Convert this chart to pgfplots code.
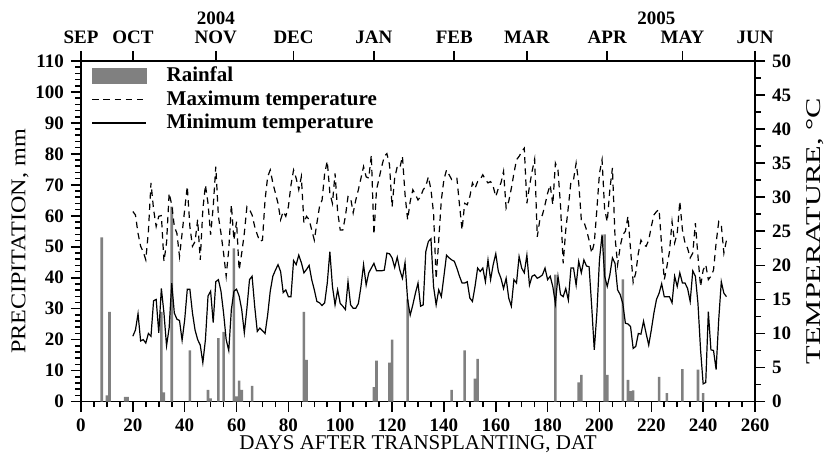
\documentclass[border=0pt]{standalone}
\usepackage{fontspec}
\setmainfont{Liberation Serif}
\newfontfamily\stretchA[FakeStretch=1.15]{Liberation Serif}
\newfontfamily\stretchB[FakeStretch=1.45]{Liberation Serif}
\usepackage{pgfplots}
\pgfplotsset{compat=1.18}
\definecolor{raingray}{RGB}{128,128,128}

\pgfplotsset{
  common/.style={
    width=337pt, height=170.3pt, scale only axis,
    xmin=0, xmax=260,
    tick align=outside,
    major tick length=5pt, minor tick length=2.8pt,
    every tick/.style={black, line width=0.8pt},
    axis line style={line width=0.85pt},
    tick label style={font=\bfseries\fontsize{9.5}{11}\selectfont},
    /pgf/number format/assume math mode=true,
    label style={font=\fontsize{10.5}{12}\selectfont},
  }
}

\begin{document}
\begin{tikzpicture}
% rainfall, left axis
\begin{axis}[common,
  axis x line*=bottom, axis y line*=left,
  ymin=0, ymax=110,
  xtick distance=20, minor x tick num=3,
  ytick distance=10, minor y tick num=4,
  xlabel={DAYS AFTER TRANSPLANTING, DAT},
  ylabel={\stretchA PRECIPITATION, mm},
  xlabel style={at={(axis description cs:0.5,-0.124)}, anchor=center},
  ylabel style={at={(axis description cs:-0.0905,0.47)}, anchor=center},
  ybar, bar width=1,
]
\addplot[fill=raingray, draw=none] coordinates {
(8,53) (10,2) (11,29) (17,1.5) (18,1.5) (31,29) (32,3) (35,63)
(42,16.5) (49,3.8) (50,1) (53,20.5) (55,22.5) (59,49.5) (60,1.7)
(61,6.8) (62,3.8) (66,5.1) (86,29) (87,13.5) (113,4.7) (114,13.2)
(119,12.6) (120,20) (126,33) (143,3.8) (148,16.5) (152,7.4) (153,13.8)
(183,41) (192,6.2) (193,8.6) (202,54) (203,8.6) (209,39.5) (211,7)
(212,3.4) (213,3.6) (223,8) (226,2.7) (232,10.5) (238,10.3) (240,2.7)
};
\end{axis}

% temperatures, right axis
\begin{axis}[common,
  axis x line*=top, axis y line*=right,
  ymin=0, ymax=50,
  xtick={0,20,52,82,113,144,172,203,232,260},
  xticklabels={SEP,OCT,NOV,DEC,JAN,FEB,MAR,APR,MAY,JUN},
  minor x tick num=0,
  ytick distance=5, minor y tick num=1,
  ylabel={\stretchB TEMPERATURE, °C},
  ylabel style={at={(axis description cs:1.089,0.5)}, anchor=center},
  clip=false,
  legend image code/.code={\draw[#1] (0pt,0pt) -- (27pt,0pt);},
  legend cell align=left,
  legend style={at={(axis description cs:0.015,0.99)}, anchor=north west,
    draw=none, fill=none, inner sep=0pt, column sep=9pt, row sep=1pt,
    nodes={inner sep=1pt},
    font=\bfseries\fontsize{10.5}{12}\selectfont},
]
\addlegendimage{legend image code/.code={\fill[raingray] (0pt,-3.75pt) rectangle (27pt,3.75pt);}}
\addplot[black, line width=0.6pt, dash pattern=on 3.2pt off 2.4pt] table {
20 27.9
21 27.4
22 24.7
23 22.8
24 22.0
25 20.8
26 25.0
27 32.1
28 28.2
29 25.7
30 27.2
31 27.3
32 20.6
33 23.3
34 30.6
35 28.9
36 25.7
37 24.7
38 21.3
39 24.7
40 28.2
41 31.6
42 25.7
43 22.8
44 23.5
45 26.7
46 20.8
47 28.2
48 31.8
49 29.1
50 24.5
51 28.6
52 34.5
53 27.2
54 24.7
55 21.8
56 18.4
57 22.3
58 28.9
59 23.7
60 26.4
61 19.3
62 21.8
63 24.7
64 28.6
65 28.2
66 27.4
67 25.7
68 24.5
69 23.5
70 23.7
71 29.6
72 33.0
73 34.0
74 32.1
75 30.6
76 29.1
77 26.7
78 27.9
79 27.2
80 28.6
81 31.8
82 34.0
83 32.8
84 31.1
85 33.0
86 26.2
87 27.2
88 26.7
89 25.2
90 23.7
91 26.2
92 28.6
93 29.6
94 33.5
95 35.3
96 30.6
97 29.1
98 33.5
99 27.9
100 25.2
101 25.2
102 27.2
103 30.1
104 29.9
105 27.7
106 29.6
107 31.1
108 32.8
109 34.5
110 33.0
111 32.8
112 36.2
113 24.5
114 31.1
115 32.8
116 34.5
117 36.0
118 36.4
119 34.8
120 28.6
121 32.8
122 34.5
123 34.3
124 36.0
125 30.4
126 26.7
127 29.4
128 31.1
129 30.4
130 29.6
131 30.1
132 31.1
133 31.6
134 33.0
135 31.1
136 27.7
137 18.0
138 23.7
139 29.6
140 32.6
141 34.0
142 33.3
143 32.6
144 32.8
145 32.8
146 28.9
147 25.2
148 29.1
149 28.9
150 30.1
151 32.1
152 31.3
153 32.3
154 32.6
155 33.3
156 32.6
157 32.1
158 32.3
159 31.6
160 30.1
161 31.3
162 32.1
163 33.8
164 28.4
165 29.4
166 31.3
167 33.5
168 35.5
169 36.0
170 36.7
171 37.2
172 29.1
173 31.6
174 33.8
175 35.6
176 24.2
177 26.7
178 27.4
179 28.9
180 30.6
181 31.8
182 28.9
183 35.0
184 34.0
185 28.6
186 20.3
187 25.2
188 28.6
189 32.3
190 32.6
191 35.0
192 32.1
193 26.7
194 26.4
195 25.2
196 23.7
197 21.8
198 23.3
199 28.2
200 33.5
201 35.5
202 28.2
203 26.4
204 31.1
205 34.3
206 24.2
207 20.1
208 22.8
209 24.5
210 25.0
211 27.2
212 22.3
213 17.5
214 18.9
215 21.8
216 23.7
217 23.0
218 22.8
219 23.7
220 25.7
221 27.4
222 27.9
223 28.2
224 22.8
225 17.9
226 19.8
227 22.0
228 26.4
229 23.3
230 24.7
231 29.4
232 25.2
233 23.3
234 22.5
235 21.1
236 21.8
237 26.2
238 21.3
239 16.9
240 19.3
241 20.1
242 17.9
243 18.4
244 19.3
245 23.3
246 26.4
247 25.9
248 21.8
249 23.7
};
\addplot[black, line width=0.6pt] table {
20 9.6
21 10.5
22 12.9
23 8.9
24 9.1
25 8.6
26 10.0
27 9.6
28 14.8
29 15.0
30 10.1
31 16.6
32 13.0
33 8.2
34 10.8
35 17.4
36 13.0
37 12.1
38 11.9
39 9.0
40 12.0
41 16.5
42 16.5
43 13.0
44 10.5
45 9.1
46 8.3
47 5.7
48 9.1
49 15.5
50 16.2
51 11.6
52 17.6
53 17.9
54 16.2
55 13.0
56 9.1
57 7.5
58 13.5
59 16.2
60 16.5
61 15.5
62 13.5
63 10.1
64 13.7
65 17.9
66 18.4
67 14.0
68 10.3
69 10.8
70 10.4
71 10.0
72 12.7
73 16.2
74 18.4
75 19.3
76 20.1
77 19.1
78 16.0
79 16.4
80 15.4
81 15.4
82 20.7
83 20.1
84 21.5
85 20.4
86 18.9
87 19.4
88 20.0
89 17.9
90 16.4
91 14.7
92 14.5
93 14.1
94 14.5
95 17.4
96 22.0
97 16.9
98 14.2
99 16.4
100 14.4
101 14.0
102 13.5
103 17.6
104 14.2
105 13.7
106 13.7
107 14.4
108 16.9
109 20.1
110 17.1
111 18.9
112 19.6
113 20.3
114 19.2
115 19.2
116 19.2
117 19.3
118 21.8
119 21.7
120 21.1
121 19.7
122 21.2
123 19.3
124 18.1
125 20.4
126 14.9
127 12.7
128 14.2
129 15.9
130 17.4
131 14.0
132 14.2
133 22.0
134 23.5
135 23.9
136 16.9
137 14.2
138 16.4
139 15.4
140 18.4
141 21.5
142 21.1
143 20.8
144 20.6
145 19.6
146 18.4
147 17.4
148 17.4
149 17.6
150 15.2
151 14.7
152 16.9
153 19.6
154 19.1
155 19.6
156 17.6
157 20.8
158 17.9
159 20.1
160 21.7
161 19.1
162 18.1
163 16.6
164 18.1
165 15.2
166 14.0
167 17.9
168 17.4
169 21.3
170 19.6
171 18.9
172 21.5
173 17.1
174 18.4
175 18.6
176 18.1
177 18.3
178 18.6
179 19.6
180 17.9
181 18.4
182 16.9
183 14.4
184 18.4
185 15.7
186 15.4
187 16.6
188 14.9
189 19.6
190 19.6
191 17.1
192 20.6
193 18.9
194 20.8
195 19.9
196 19.8
197 14.0
198 7.6
199 13.0
200 20.8
201 24.5
202 18.4
203 16.9
204 18.6
205 21.1
206 20.3
207 16.4
208 15.7
209 14.4
210 11.5
211 11.4
212 11.0
213 7.8
214 8.1
215 10.0
216 9.9
217 11.8
218 10.0
219 8.3
220 10.5
221 13.0
222 15.0
223 15.9
224 17.3
225 15.4
226 15.4
227 15.4
228 14.5
229 18.4
230 16.9
231 18.9
232 17.4
233 17.4
234 16.6
235 14.7
236 19.2
237 18.4
238 14.4
239 7.6
240 2.6
241 2.8
242 13.2
243 7.6
244 7.5
245 4.7
246 12.0
247 17.6
248 15.9
249 15.4
};
\legend{Rainfal, Maximum temperature, Minimum temperature}
\node[font=\bfseries\fontsize{9.5}{11}\selectfont] at (axis cs:52,50) [yshift=21.5pt] {2004};
\node[font=\bfseries\fontsize{9.5}{11}\selectfont] at (axis cs:222,50) [yshift=21.5pt] {2005};
\end{axis}
\path ([xshift=-40.5pt,yshift=-33.2pt]current axis.south west) rectangle ([xshift=39.5pt,yshift=30.5pt]current axis.north east);
\end{tikzpicture}
\end{document}
